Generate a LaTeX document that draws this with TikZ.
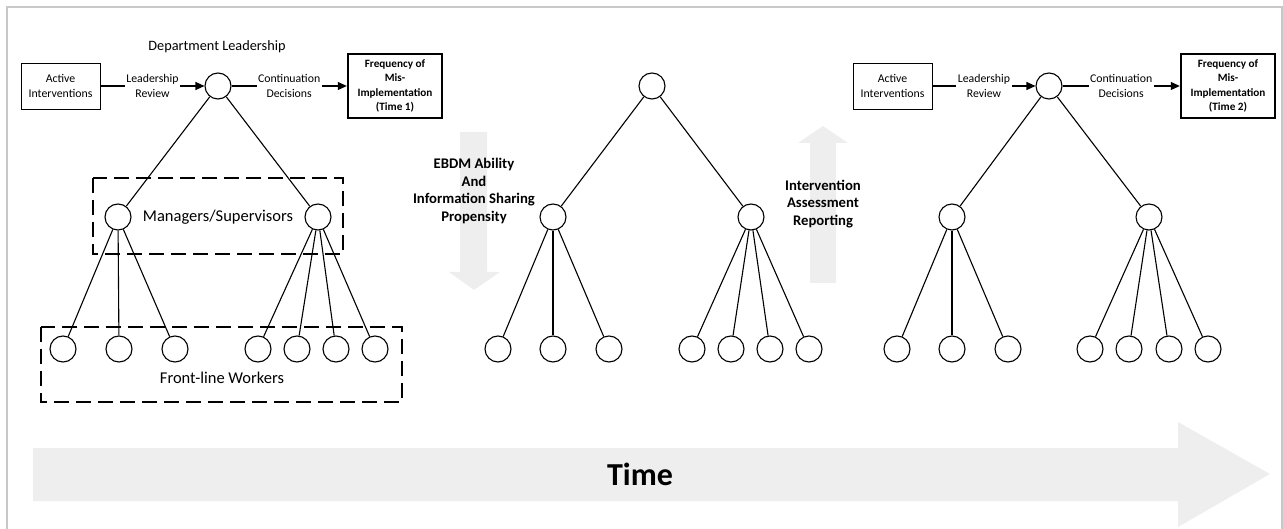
\documentclass[tikz,border=0pt]{standalone}
\usepackage{fontspec}
\setmainfont{Carlito}
\usetikzlibrary{arrows.meta}
\definecolor{arrowgray}{HTML}{EEEEEE}
\definecolor{framegray}{HTML}{C8C8C8}
\begin{document}
\begin{tikzpicture}[x=1pt,y=-1pt,
  person/.style={circle,draw,line width=1.1pt,minimum size=26pt,inner sep=0pt,fill=white},
  link/.style={line width=1.1pt},
  smalltxt/.style={font=\fontsize{11.8}{14.2}\selectfont,align=center},
  lbl/.style={smalltxt,fill=white,inner sep=1.5pt},
  srcbox/.style={draw,line width=0.9pt,smalltxt,minimum width=79pt,minimum height=46pt,inner sep=0pt},
  outbox/.style={draw,line width=2.4pt,font=\fontsize{11.2}{14.3}\selectfont\bfseries,align=center,minimum width=94pt,minimum height=64pt,inner sep=0pt},
  flow/.style={line width=1.1pt,-{Triangle[length=9pt,width=8pt]}},
  group/.style={draw,line width=1.1pt,dash pattern=on 15pt off 7pt},
  grouptxt/.style={font=\fontsize{16.5}{19}\selectfont},
  sidetxt/.style={font=\fontsize{14.7}{17.5}\selectfont\bfseries,align=center},
  bigarrow/.style={fill=arrowgray,draw=none}
]
\useasboundingbox (0,0) rectangle (1283,529);
% frame
\draw[framegray,line width=1.5pt] (7,540) -- (7,7) -- (1282,7) -- (1282,540);

% background gray arrows
\fill[bigarrow] (33,448) -- (1178,448) -- (1178,422) -- (1270,474) -- (1178,527) -- (1178,501) -- (33,501) -- cycle;
\fill[bigarrow] (460,132) -- (487,132) -- (487,272) -- (500,272) -- (474,290) -- (449,272) -- (460,272) -- cycle;
\fill[bigarrow] (810,283) -- (836,283) -- (836,143) -- (848,143) -- (823,126) -- (798,143) -- (810,143) -- cycle;

\node[font=\fontsize{32}{36}\selectfont\bfseries] (time) at (640,474) {Time};
\node[sidetxt] (ebdm) at (474,191) {EBDM Ability\\And\\Information Sharing\\Propensity};
\node[sidetxt] (iar) at (823,204) {Intervention\\Assessment\\Reporting};

% group boxes (tree 1)
\draw[group] (93,178) rectangle (343,254);
\draw[group] (41,327) rectangle (402,402);
\node[grouptxt] (mgrtxt) at (218,217) {Managers/Supervisors};
\node[grouptxt] (flwtxt) at (222,378) {Front-line Workers};
\node[font=\fontsize{14.3}{17}\selectfont] (dl) at (217,47) {Department Leadership};

% trees
\foreach \t/\tx/\ma/\mb/\wa/\wb/\wc/\wd/\we/\wf/\wg in {
  1/218/118/318/63/119/175/258/297/336/375,
  2/652/553/751/498/553/609/692/731/770/809,
  3/1049/952/1149/897/952/1008/1090/1129/1169/1208}{
  \node[person] (t\t top) at (\tx,86) {};
  \node[person] (t\t m1) at (\ma,217) {};
  \node[person] (t\t m2) at (\mb,217) {};
  \node[person] (t\t w1) at (\wa,349) {};
  \node[person] (t\t w2) at (\wb,349) {};
  \node[person] (t\t w3) at (\wc,349) {};
  \node[person] (t\t w4) at (\wd,349) {};
  \node[person] (t\t w5) at (\we,349) {};
  \node[person] (t\t w6) at (\wf,349) {};
  \node[person] (t\t w7) at (\wg,349) {};
  \draw[link] (t\t top) -- (t\t m1);
  \draw[link] (t\t top) -- (t\t m2);
  \draw[link] (t\t m1) -- (t\t w1);
  \draw[link] (t\t m1) -- (t\t w2);
  \draw[link] (t\t m1) -- (t\t w3);
  \draw[link] (t\t m2) -- (t\t w4);
  \draw[link] (t\t m2) -- (t\t w5);
  \draw[link] (t\t m2) -- (t\t w6);
  \draw[link] (t\t m2) -- (t\t w7);
}

% inputs / outputs
\node[srcbox] (ai1) at (60.5,86) {Active\\Interventions};
\node[outbox] (f1) at (395,86) {Frequency of\\Mis-\\Implementation\\(Time 1)};
\draw[flow] (ai1) -- node[lbl] (lr1) {Leadership\\Review} (t1top);
\draw[flow] (t1top) -- node[lbl] (cd1) {Continuation\\Decisions} (f1);

\node[srcbox] (ai3) at (892.5,86) {Active\\Interventions};
\node[outbox] (f3) at (1228,86) {Frequency of\\Mis-\\Implementation\\(Time 2)};
\draw[flow] (ai3) -- node[lbl] (lr3) {Leadership\\Review} (t3top);
\draw[flow] (t3top) -- node[lbl] (cd3) {Continuation\\Decisions} (f3);
\end{tikzpicture}
\end{document}
